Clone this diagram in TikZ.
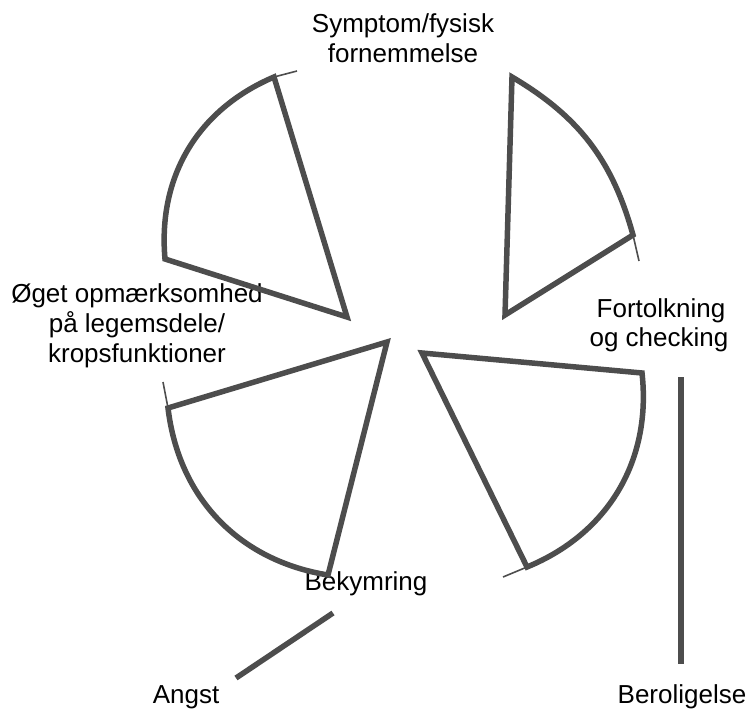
\documentclass[tikz,border=0pt]{standalone}
\usepackage{fontspec}
\setmainfont{Liberation Sans}
\definecolor{dg}{RGB}{77,77,77}
\begin{document}
\begin{tikzpicture}[x=1pt,y=-1pt,
  wedge/.style={draw=dg,line width=5.5pt},
  tickline/.style={draw=dg,line width=1.6pt},
  bar/.style={draw=dg,line width=5.5pt},
  lbl/.style={anchor=base,inner sep=0pt,font=\fontsize{26}{31}\selectfont}]
\useasboundingbox (0,0) rectangle (751,709);
% labels
\node[lbl] (s1) at (403,33) {Symptom/fysisk};
\node[lbl] (s2) at (403,63) {fornemmelse};
\node[lbl] (f1) at (661,317) {Fortolkning};
\node[lbl] (f2) at (659,346) {og checking};
\node[lbl] (o1) at (137,302) {Øget opmærksomhed};
\node[lbl] (o2) at (137,332) {på legemsdele/};
\node[lbl] (o3) at (137,362) {kropsfunktioner};
\node[lbl] (bk) at (366,590) {Bekymring};
\node[lbl] (an) at (186,703) {Angst};
\node[lbl] (be) at (682,703) {Beroligelse};
% points
\coordinate (tra) at (505,315);
\coordinate (tr1) at (633,235);
\coordinate (tr2) at (512,77);
\coordinate (trt) at (639,261);
\coordinate (tla) at (347,317);
\coordinate (tl1) at (274,77);
\coordinate (tl2) at (165,259);
\coordinate (tlt) at (297,71);
\coordinate (bla) at (387,342);
\coordinate (bl1) at (168,408);
\coordinate (bl2) at (328,575);
\coordinate (blt) at (163,382);
\coordinate (bra) at (422,353);
\coordinate (br1) at (527,567);
\coordinate (br2) at (642,373);
\coordinate (brt) at (503,577);
\coordinate (ang1) at (333,613);
\coordinate (ang2) at (236,678);
\coordinate (ber1) at (681,377);
\coordinate (ber2) at (681,664);
% wedges
\draw[wedge] (tra) -- (tr1) to[bend right=22] (tr2) -- cycle;
\draw[wedge] (tla) -- (tl1) to[bend right=36] (tl2) -- cycle;
\draw[wedge] (bla) -- (bl1) to[bend right=37] (bl2) -- cycle;
\draw[wedge] (bra) -- (br1) to[bend right=37] (br2) -- cycle;
% ticks
\draw[tickline] (tr1) -- (trt);
\draw[tickline] (tl1) -- (tlt);
\draw[tickline] (bl1) -- (blt);
\draw[tickline] (br1) -- (brt);
% bars
\draw[bar] (ang1) -- (ang2);
\draw[bar] (ber1) -- (ber2);
\end{tikzpicture}
\end{document}
